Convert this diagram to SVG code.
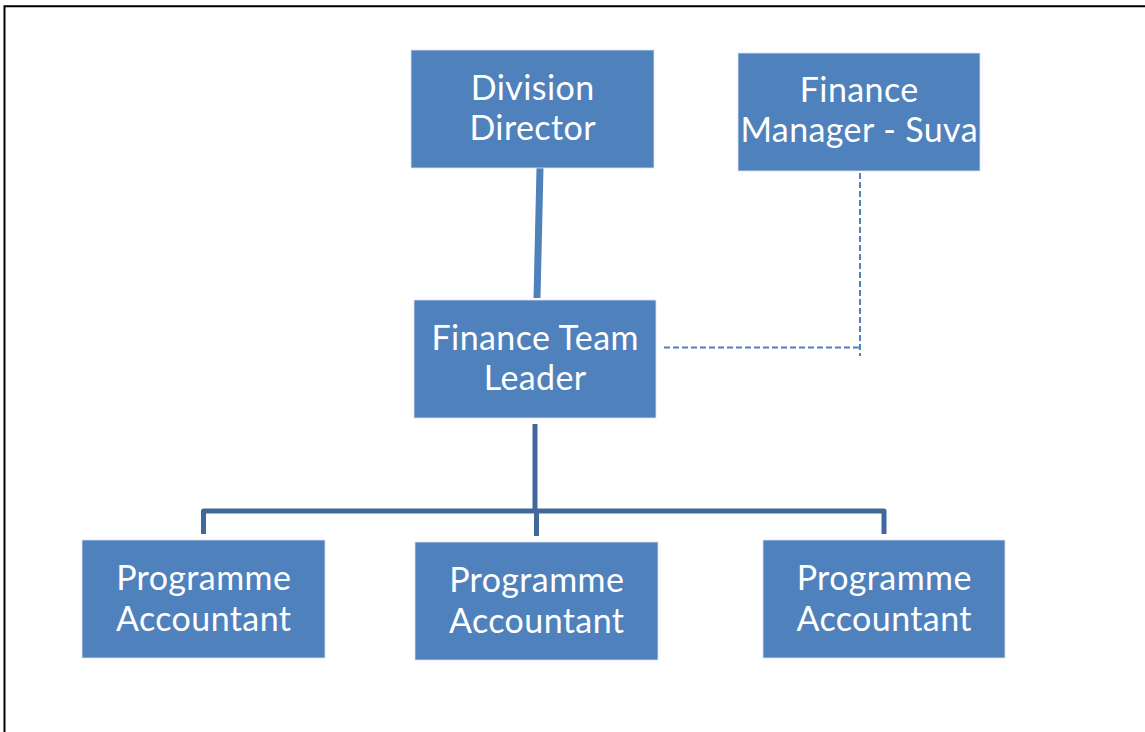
<svg xmlns="http://www.w3.org/2000/svg" width="1145" height="732" viewBox="0 0 1145 732">
<style>
.box{fill:#4f81bd;stroke:#dbe5f1;stroke-width:0.8}
.lbl{font-family:Lato,"Open Sans","Liberation Sans",sans-serif;font-size:34px;letter-spacing:0.4px;fill:#ffffff;text-anchor:middle}
.solid{fill:none;stroke:#41689b;stroke-width:5;stroke-linejoin:round}
.main{fill:none;stroke:#4f81bd;stroke-width:7}
.dash{fill:none;stroke:#4f81bd;stroke-width:2;stroke-dasharray:6 3}
</style>
<rect x="0" y="0" width="1145" height="732" fill="#ffffff"/>
<path d="M4.5,732 V6.2 H1145" fill="none" stroke="#000000" stroke-width="2"/>
<g id="connectors">
<path class="main" d="M540,168 L537,298"/>
<path class="solid" d="M535,424 V511"/>
<path class="solid" d="M203.5,534 V511 H884 V534"/>
<path class="solid" d="M536.5,511 V536"/>
<path class="dash" d="M664,347.5 H860"/>
<path class="dash" d="M860,173 V356"/>
</g>
<g id="division-director">
<rect class="box" x="411" y="50" width="243" height="118"/>
<text class="lbl" x="532.7" y="99.5">Division</text>
<text class="lbl" x="532.7" y="139.5">Director</text>
</g>
<g id="finance-manager-suva">
<rect class="box" x="738" y="53" width="242" height="118"/>
<text class="lbl" x="859.2" y="102">Finance</text>
<text class="lbl" x="859.2" y="142">Manager - Suva</text>
</g>
<g id="finance-team-leader">
<rect class="box" x="414" y="300" width="242" height="118"/>
<text class="lbl" x="535.2" y="350">Finance Team</text>
<text class="lbl" x="535.2" y="390">Leader</text>
</g>
<g id="programme-accountant-1">
<rect class="box" x="82" y="540" width="243" height="118"/>
<text class="lbl" x="203.7" y="590">Programme</text>
<text class="lbl" x="203.7" y="631">Accountant</text>
</g>
<g id="programme-accountant-2">
<rect class="box" x="415" y="542" width="243" height="118"/>
<text class="lbl" x="536.7" y="592">Programme</text>
<text class="lbl" x="536.7" y="633">Accountant</text>
</g>
<g id="programme-accountant-3">
<rect class="box" x="763" y="540" width="242" height="118"/>
<text class="lbl" x="884.2" y="590">Programme</text>
<text class="lbl" x="884.2" y="631">Accountant</text>
</g>
</svg>
